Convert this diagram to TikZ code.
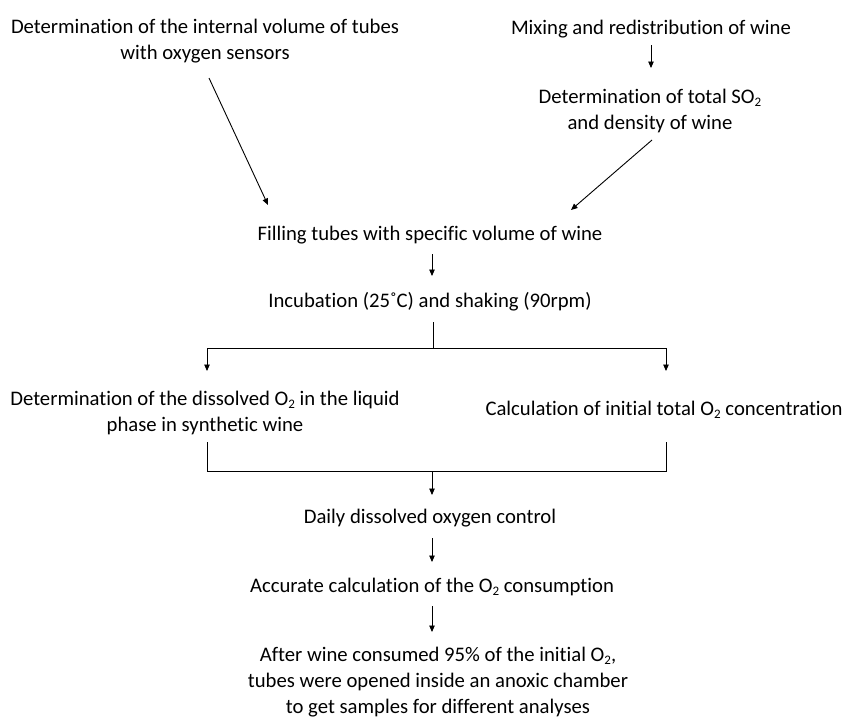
\documentclass[tikz,border=0pt]{standalone}
\usepackage{fontspec}
\setmainfont{Carlito}[Ligatures=NoCommon]
\usetikzlibrary{arrows.meta,calc}
\newcommand{\sbt}[1]{\raisebox{-0.3ex}{\fontsize{13}{13}\selectfont #1}}
\begin{document}
\begin{tikzpicture}[x=1pt,y=-1pt,
  txt/.style={inner sep=0pt,align=center,font=\fontsize{20.7}{26}\selectfont},
  arr/.style={-{Triangle[length=6.5pt,width=5.5pt]},line width=0.9pt},
  ln/.style={line width=0.9pt}]
\useasboundingbox (0,0) rectangle (845,716);
\node[txt] (n1) at (205,41) {Determination of the internal volume of tubes\\with oxygen sensors};
\node[txt] (n2) at (651,29) {Mixing and redistribution of wine};
\node[txt] (n3) at (650,111) {Determination of total SO\sbt{2}\\and density of wine};
\node[txt] (n4) at (430,235) {Filling tubes with specific volume of wine};
\node[txt] (n5) at (430,302) {Incubation (25˚C) and shaking (90rpm)};
\node[txt] (n6) at (205,413) {Determination of the dissolved O\sbt{2} in the liquid\\phase in synthetic wine};
\node[txt] (n7) at (664,410) {Calculation of initial total O\sbt{2} concentration};
\node[txt] (n8) at (430,518) {Daily dissolved oxygen control};
\node[txt] (n9) at (432,587) {Accurate calculation of the O\sbt{2} consumption};
\node[txt] (n10) at (438,682) {After wine consumed 95\% of the initial  O\sbt{2},\\tubes were opened inside an anoxic chamber\\to get samples for different analyses};
\coordinate (j1) at (433,348);
\coordinate (j2) at (432,471);
\draw[arr] ($(n2)+(0,16)$) -- ($(n3)+(1,-43)$);
\draw[arr] ($(n1)+(4,37)$) -- ($(n4)+(-162,-30)$);
\draw[arr] ($(n3)+(2,29)$) -- ($(n4)+(141,-25)$);
\draw[arr] ($(n4)+(2,19)$) -- ($(n5)+(2,-26)$);
\draw[ln] ($(n5)+(3,20)$) -- (j1);
\draw[ln] (207,348) -- (666,348);
\draw[arr] (207,348) -- ($(n6)+(2,-42)$);
\draw[arr] (666,348) -- ($(n7)+(2,-39)$);
\draw[ln] ($(n6)+(2,29)$) -- (207,471) -- (666,471) -- ($(n7)+(2,32)$);
\draw[arr] (j2) -- ($(n8)+(2,-23)$);
\draw[arr] ($(n8)+(2,20)$) -- ($(n9)+(0,-25)$);
\draw[arr] ($(n9)+(0,19)$) -- ($(n10)+(-6,-50)$);
\end{tikzpicture}
\end{document}
